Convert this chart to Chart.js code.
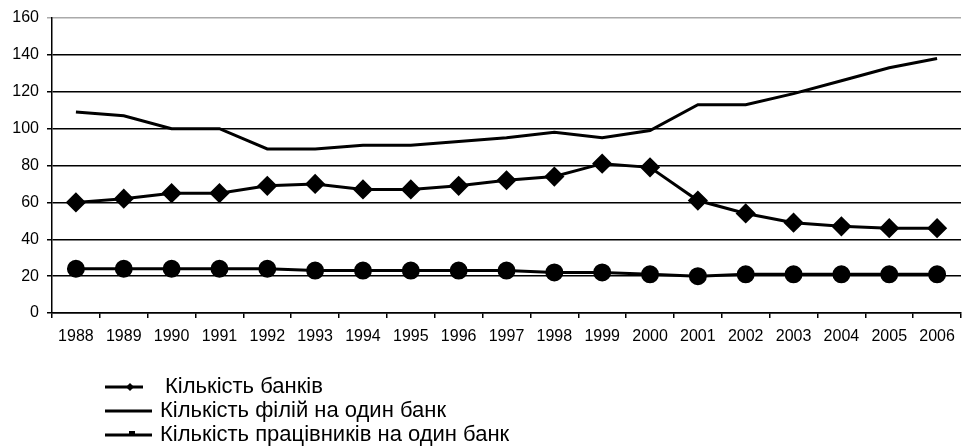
<!DOCTYPE html>
<html>
<head>
<meta charset="utf-8">
<script src="https://cdn.jsdelivr.net/npm/chart.js"></script>
<style>
html, body { margin: 0; padding: 0; background: #fff; overflow: hidden; }
</style>
</head>
<body>
<canvas id="chart" width="972" height="447"></canvas>
<script>
// data
const years = ['1988', '1989', '1990', '1991', '1992', '1993', '1994', '1995', '1996', '1997',
               '1998', '1999', '2000', '2001', '2002', '2003', '2004', '2005', '2006'];
const banks = [60, 62, 65, 65, 69, 70, 67, 67, 69, 72, 74, 81, 79, 61, 54, 49, 47, 46, 46];
const branchesPerBank = [109, 107, 100, 100, 89, 89, 91, 91, 93, 95, 98, 95, 99, 113, 113, 119, 126, 133, 138];
const staffPerBank = [24, 24, 24, 24, 24, 23, 23, 23, 23, 23, 22, 22, 21, 20, 21, 21, 21, 21, 21];
const seriesNames = ['Кількість банків', 'Кількість філій на один банк', 'Кількість працівників на один банк'];
const yTicks = [0, 20, 40, 60, 80, 100, 120, 140, 160];

const FONT = '"Liberation Sans", Arial, sans-serif';

// legend drawn as three stacked rows under the axis
const legendRows = {
    id: 'legendRows',
    afterDraw(chart) {
        const ctx = chart.ctx;
        ctx.save();
        ctx.font = '22px ' + FONT;
        ctx.textBaseline = 'middle';
        ctx.fillStyle = '#000';
        ctx.strokeStyle = '#000';
        ctx.lineWidth = 3;
        chart.data.datasets.forEach((ds, i) => {
            const y = 387 + i * 24;
            const x0 = 105, x1 = i === 0 ? 143 : 152;
            ctx.beginPath();
            ctx.moveTo(x0, y);
            ctx.lineTo(x1, y);
            ctx.stroke();
            if (i === 0) {
                ctx.beginPath();
                ctx.moveTo(130, y - 4); ctx.lineTo(134, y); ctx.lineTo(130, y + 4); ctx.lineTo(126, y);
                ctx.closePath();
                ctx.fill();
            } else if (i === 2) {
                ctx.fillRect(129, y - 4, 6, 5);
            }
            ctx.fillText(ds.label, i === 0 ? 165 : 160, y);
        });
        ctx.restore();
    }
};

const ctx = document.getElementById('chart').getContext('2d');
new Chart(ctx, {
    type: 'line',
    data: {
        labels: years,
        datasets: [
            {
                label: seriesNames[0],
                data: banks,
                borderColor: '#000',
                backgroundColor: '#000',
                borderWidth: 3,
                pointStyle: 'rectRot',
                pointRadius: 8,
                tension: 0
            },
            {
                label: seriesNames[1],
                data: branchesPerBank,
                borderColor: '#000',
                backgroundColor: '#000',
                borderWidth: 3,
                pointRadius: 0,
                tension: 0
            },
            {
                label: seriesNames[2],
                data: staffPerBank,
                borderColor: '#000',
                backgroundColor: '#000',
                borderWidth: 3,
                pointStyle: 'circle',
                pointRadius: 7.5,
                tension: 0
            }
        ]
    },
    options: {
        responsive: false,
        animation: false,
        layout: { padding: { top: 18, right: 0, bottom: 0, left: 0 } },
        plugins: {
            legend: { display: false },
            tooltip: { enabled: false }
        },
        scales: {
            x: {
                offset: true,
                grid: {
                    offset: true,
                    drawOnChartArea: false,
                    drawTicks: true,
                    tickLength: 5,
                    lineWidth: 1.5,
                    color: '#000'
                },
                border: { color: '#000', width: 1.5 },
                ticks: {
                    color: '#000',
                    font: { family: FONT, size: 16 },
                    padding: 9,
                    maxRotation: 0,
                    autoSkip: false
                },
                afterFit(scale) { scale.height = 134; }
            },
            y: {
                min: 0,
                max: 160,
                afterBuildTicks(scale) { scale.ticks = yTicks.map(v => ({ value: v })); },
                grid: {
                    color: c => c.tick && c.tick.value === 160 ? '#aaa' : '#000',
                    lineWidth: 1.5,
                    tickLength: 5
                },
                border: { color: '#000', width: 1.5 },
                ticks: {
                    color: '#000',
                    font: { family: FONT, size: 16 },
                    padding: 8
                },
                afterFit(scale) { scale.width = 52; }
            }
        }
    },
    plugins: [legendRows]
});
</script>
</body>
</html>
